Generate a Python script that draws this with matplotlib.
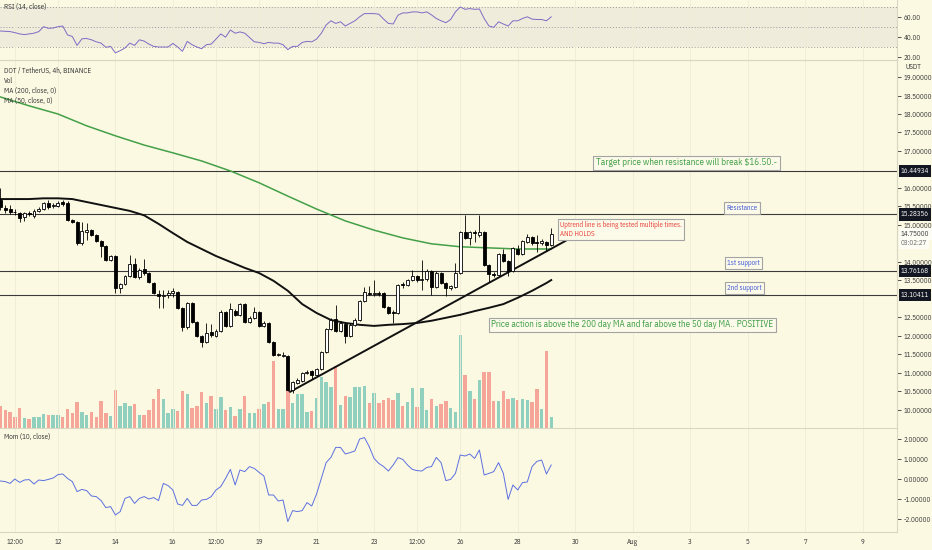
import numpy as np
import pandas as pd
import matplotlib
matplotlib.use('Agg')
import matplotlib.pyplot as plt
import matplotlib.transforms as mtransforms

plt.rcParams['font.family'] = ['IBM Plex Sans Condensed', 'DejaVu Sans']

# ---- data (DOT / USDT 4h) ----
start = pd.Timestamp('2021-07-10 00:00')
bar = pd.Timedelta(hours=4)

opens = [15.68, 15.46, 15.44, 15.36, 15.33, 15.22, 15.31, 15.24, 15.38, 15.43,
         15.60, 15.50, 15.52, 15.62, 15.60, 15.14, 15.08, 14.51, 14.82, 14.86,
         14.73, 14.57, 14.43, 14.05, 14.16, 13.30, 13.41, 13.62, 13.95, 13.59,
         13.81, 13.70, 13.43, 13.14, 13.08, 13.11, 13.16, 13.19, 12.76, 12.24,
         12.89, 12.38, 12.00, 11.84, 12.11, 12.00, 12.14, 12.65, 12.27, 12.68,
         12.57, 12.86, 12.38, 12.49, 12.65, 12.27, 12.35, 11.84, 11.49, 11.47,
         11.46, 10.54, 10.73, 10.78, 11.00, 11.05, 10.95, 11.11, 11.57, 12.19,
         12.46, 12.14, 12.32, 12.00, 12.30, 12.43, 12.95, 13.16, 13.14, 13.16,
         13.16, 12.78, 12.65, 12.62, 13.41, 13.38, 13.51, 13.62, 13.51, 13.54,
         13.76, 13.32, 13.70, 13.43, 13.30, 13.32, 13.70, 14.81, 14.65, 14.81,
         14.73, 14.81, 13.92, 13.68, 13.65, 14.22, 14.03, 13.76, 14.35, 14.22,
         14.54, 14.68, 14.54, 14.51, 14.54, 14.46]
highs = [16.00, 15.54, 15.54, 15.43, 15.35, 15.35, 15.38, 15.43, 15.48, 15.62,
         15.68, 15.60, 15.65, 15.68, 15.65, 15.16, 15.10, 15.08, 15.05, 14.90,
         14.76, 14.60, 14.46, 14.20, 14.19, 13.44, 13.65, 14.19, 14.11, 13.84,
         14.08, 13.72, 13.46, 13.24, 13.24, 13.24, 13.30, 13.22, 12.78, 12.92,
         12.92, 12.40, 12.03, 12.35, 12.32, 12.19, 12.70, 12.68, 12.89, 12.73,
         12.89, 12.89, 12.54, 12.78, 12.68, 12.40, 12.38, 11.86, 11.54, 11.57,
         11.49, 10.78, 10.86, 11.03, 11.08, 11.08, 11.14, 11.60, 12.22, 12.49,
         12.84, 12.40, 12.38, 12.35, 12.49, 12.97, 13.32, 13.35, 13.51, 13.22,
         13.19, 12.81, 12.70, 13.41, 13.46, 13.54, 13.78, 13.65, 14.05, 13.81,
         13.78, 13.76, 13.73, 13.46, 13.38, 13.97, 14.84, 15.27, 14.84, 14.86,
         15.27, 14.84, 13.95, 13.73, 14.24, 14.35, 14.05, 14.41, 14.46, 14.60,
         14.76, 14.71, 14.73, 14.62, 14.57, 14.92]
lows = [15.40, 15.32, 15.30, 15.27, 15.08, 15.10, 15.24, 15.20, 15.35, 15.40,
        15.43, 15.46, 15.48, 15.52, 15.10, 15.04, 14.46, 14.46, 14.60, 14.70,
        14.53, 14.14, 14.02, 14.02, 13.16, 13.16, 13.38, 13.59, 13.56, 13.54,
        13.65, 13.43, 13.14, 12.76, 12.76, 13.03, 13.05, 12.73, 12.14, 12.20,
        12.35, 11.97, 11.70, 11.81, 11.97, 11.97, 12.11, 12.24, 12.24, 12.54,
        12.54, 12.35, 12.35, 12.46, 12.24, 12.24, 11.81, 11.46, 11.46, 11.43,
        10.50, 10.46, 10.70, 10.76, 10.97, 10.84, 10.92, 11.08, 11.54, 12.16,
        12.11, 12.11, 11.81, 11.97, 12.27, 12.40, 12.92, 13.10, 13.08, 13.08,
        12.76, 12.59, 12.35, 12.59, 13.30, 13.35, 13.49, 13.46, 13.24, 13.49,
        13.11, 13.30, 13.40, 13.08, 13.24, 13.30, 13.68, 14.62, 14.46, 14.54,
        14.68, 13.89, 13.46, 13.59, 13.62, 14.00, 13.62, 13.73, 14.19, 14.19,
        14.51, 14.46, 14.27, 14.46, 14.30, 14.43]
closes = [15.49, 15.41, 15.36, 15.34, 15.19, 15.31, 15.30, 15.38, 15.43, 15.59,
          15.49, 15.54, 15.59, 15.57, 15.14, 15.08, 14.51, 14.84, 14.86, 14.73,
          14.57, 14.43, 14.05, 14.16, 13.30, 13.41, 13.62, 13.95, 13.59, 13.78,
          13.70, 13.46, 13.16, 13.08, 13.11, 13.16, 13.22, 12.76, 12.24, 12.89,
          12.38, 12.00, 11.84, 12.08, 12.03, 12.14, 12.65, 12.27, 12.73, 12.57,
          12.86, 12.38, 12.49, 12.65, 12.27, 12.35, 11.84, 11.49, 11.51, 11.49,
          10.54, 10.76, 10.81, 11.00, 11.03, 10.95, 11.11, 11.57, 12.19, 12.43,
          12.14, 12.35, 12.00, 12.30, 12.43, 12.95, 13.19, 13.14, 13.16, 13.14,
          12.78, 12.62, 12.62, 13.38, 13.38, 13.51, 13.62, 13.51, 13.54, 13.76,
          13.32, 13.70, 13.43, 13.30, 13.35, 13.70, 14.81, 14.65, 14.81, 14.78,
          14.81, 13.92, 13.68, 13.65, 14.22, 14.03, 13.76, 14.38, 14.22, 14.57,
          14.68, 14.51, 14.51, 14.57, 14.46, 14.75]
volumes = [22, 18, 16, 11, 20, 10, 9, 11, 11, 14,
           13, 13, 13, 11, 19, 15, 26, 16, 13, 16,
           11, 27, 15, 12, 38, 22, 25, 22, 24, 13,
           13, 18, 29, 39, 29, 15, 19, 17, 37, 34,
           20, 22, 36, 25, 32, 19, 31, 18, 21, 12,
           19, 32, 15, 15, 19, 24, 26, 67, 19, 19,
           38, 25, 34, 34, 16, 17, 30, 51, 46, 41,
           62, 23, 32, 31, 41, 41, 42, 25, 35, 25,
           28, 30, 28, 35, 22, 26, 40, 21, 40, 18,
           29, 22, 24, 27, 20, 16, 93, 53, 37, 29,
           48, 56, 56, 27, 27, 37, 29, 30, 28, 29,
           28, 26, 39, 19, 77, 11]
rsi = [46.0, 45.7, 45.4, 44.4, 43.1, 42.4, 43.1, 43.8, 45.4, 50.3,
       48.7, 49.0, 50.3, 51.0, 42.1, 40.5, 31.6, 38.2, 38.5, 37.2,
       35.2, 33.9, 29.7, 30.6, 24.1, 26.4, 29.0, 33.9, 31.6, 37.2,
       35.9, 32.9, 30.6, 30.0, 30.0, 30.0, 33.6, 30.0, 25.7, 35.6,
       32.3, 30.0, 28.3, 32.3, 32.9, 37.9, 43.1, 39.8, 47.0, 43.8,
       45.1, 43.8, 39.5, 35.2, 34.6, 33.3, 34.6, 33.9, 33.9, 32.3,
       27.4, 30.6, 30.6, 34.6, 35.6, 35.2, 37.9, 43.8, 52.0, 56.2,
       53.6, 55.2, 51.0, 53.6, 56.2, 60.2, 63.4, 63.4, 63.4, 62.8,
       57.9, 53.6, 53.0, 61.8, 64.1, 64.1, 65.1, 65.1, 64.1, 65.1,
       62.1, 58.5, 56.2, 54.3, 57.5, 65.1, 70.0, 67.7, 68.4, 67.7,
       68.0, 58.5, 51.0, 49.7, 55.2, 53.0, 51.0, 56.2, 56.2, 58.5,
       60.2, 57.9, 57.5, 57.5, 56.2, 60.2]
mom = [-0.10, -0.13, -0.22, 0.00, -0.17, -0.05, -0.03, -0.25, -0.05, -0.08,
       -0.02, 0.05, 0.22, 0.25, 0.03, -0.13, -0.63, -0.52, -0.58, -0.85,
       -0.88, -1.08, -1.43, -1.38, -1.80, -1.63, -0.97, -0.88, -1.22, -0.97,
       -0.88, -1.00, -0.93, -1.08, -0.22, -0.33, -0.55, -1.25, -1.32, -0.97,
       -1.32, -1.32, -1.05, -1.02, -0.88, -0.55, -0.38, 0.03, 0.48, -0.30,
       0.45, 0.37, 0.62, 0.53, 0.33, 0.15, -0.80, -0.80, -1.10, -1.05,
       -2.13, -1.58, -1.63, -1.58, -1.18, -1.35, -0.75, 0.03, 0.82, 1.08,
       1.58, 1.58, 1.25, 1.32, 1.40, 2.00, 2.07, 1.62, 1.03, 0.78,
       0.62, 0.40, 0.70, 1.07, 0.98, 0.70, 0.48, 0.42, 0.40, 0.58,
       0.62, 1.08, 0.82, -0.08, -0.02, 0.28, 1.20, 1.15, 1.25, 1.03,
       1.45, 0.20, 0.28, 0.37, 0.82, 0.28, -1.02, -0.30, -0.55, -0.18,
       -0.15, 0.62, 0.88, 0.95, 0.25, 0.70]

# MA 200 read once per day, MA 50 every third bar (plus the last bar)
ma200_idx = list(range(0, 115, 6)) + [115]
ma200 = [18.46, 18.22, 18.00, 17.68, 17.41, 17.16, 16.95, 16.73, 16.46, 16.14,
         15.78, 15.43, 15.11, 14.86, 14.65, 14.49, 14.41, 14.38, 14.35, 14.35, 14.35]
ma50_idx = list(range(0, 115, 3)) + [115]
ma50 = [15.70, 15.70, 15.70, 15.72, 15.72, 15.70, 15.62, 15.54, 15.46, 15.38,
        15.26, 15.03, 14.78, 14.54, 14.35, 14.16, 14.00, 13.84, 13.70, 13.49,
        13.22, 12.86, 12.62, 12.43, 12.35, 12.30, 12.27, 12.30, 12.32, 12.35,
        12.41, 12.49, 12.57, 12.67, 12.76, 12.86, 13.03, 13.22, 13.43, 13.51]

levels = [16.44934, 15.28356, 13.76168, 13.10411]
trend_t = ['2021-07-20 02:00', '2021-07-29 16:00']
trend_p = [10.49, 14.57]

tick_dates = ['2021-07-10 12:00', '2021-07-12', '2021-07-14', '2021-07-16',
              '2021-07-17 12:00', '2021-07-19', '2021-07-21', '2021-07-23',
              '2021-07-24 12:00', '2021-07-26', '2021-07-28', '2021-07-30',
              '2021-08-01', '2021-08-03', '2021-08-05', '2021-08-07', '2021-08-09']
tick_labels = ['12:00', '12', '14', '16', '12:00', '19', '21', '23', '12:00',
               '26', '28', '30', 'Aug', '3', '5', '7', '9']
# price scale labels that stay visible (16.5, 14.5 and 13.0 sit under the tags)
price_ticks = [10.0, 10.5, 11.0, 11.5, 12.0, 12.5, 13.5, 14.0, 15.0, 15.5,
               16.0, 17.0, 17.5, 18.0, 18.5, 19.0]
rsi_ticks = [20, 40, 60]
mom_ticks = [-2, -1, 0, 1, 2]


def bar_pos(ts):
    return (pd.to_datetime(ts) - start) / bar


# ---- figure ----
W, H = 932, 550
AXW = 897
BG = '#fcf9e3'
TXT = '#333333'
FS = 5.0
fig = plt.figure(figsize=(W / 100, H / 100), dpi=100, facecolor=BG)


def rect(top, bottom):
    return [0, 1 - bottom / H, AXW / W, (bottom - top) / H]


ax_rsi = fig.add_axes(rect(0, 60))
ax_vol = fig.add_axes(rect(60, 428), sharex=ax_rsi)
ax = fig.add_axes(rect(60, 428), sharex=ax_rsi)
ax_mom = fig.add_axes(rect(428, 532), sharex=ax_rsi)
ax.patch.set_alpha(0)

xs = np.arange(len(closes))
o = np.array(opens)
c = np.array(closes)
up = c >= o
tick_x = [bar_pos(t) for t in tick_dates]

for a in (ax_rsi, ax_vol, ax, ax_mom):
    a.set_facecolor(BG)
    for s in a.spines.values():
        s.set_color('#d9d6c3')
        s.set_linewidth(0.8)
    a.spines['left'].set_visible(False)
    a.spines['bottom'].set_visible(False)
    a.set_xticks(tick_x)
    a.grid(axis='x', color='#f0edd6', lw=0.6)
    a.tick_params(axis='x', length=0, labelbottom=False)
    a.yaxis.tick_right()
    a.tick_params(axis='y', labelsize=FS, colors=TXT, length=3, width=0.6, pad=2)

ax_rsi.set_xlim(-0.1, 187.2)

# volume
vcol = np.where(up, '#91cfbe', '#f5a699')
ax_vol.bar(xs, volumes, width=0.72, color=vcol, zorder=2)
ax_vol.set_ylim(0, max(volumes) * 3.96)
ax_vol.set_yticks([])
ax_vol.grid(False)
ax_vol.tick_params(axis='y', length=0)

# levels, MAs, trendline
for lv in levels:
    ax.axhline(lv, color='#3a3a3a', lw=0.8, zorder=2)
ax.plot(ma200_idx, ma200, color='#43a047', lw=1.1, zorder=3)
ax.plot(ma50_idx, ma50, color='#111111', lw=1.4, zorder=3)
ax.plot([bar_pos(t) for t in trend_t], trend_p, color='#111111', lw=1.4, zorder=3)

# candles
ax.vlines(xs, lows, highs, color='black', lw=0.6, zorder=4)
body_lo = np.minimum(o, c)
body_h = np.maximum(np.abs(c - o), 0.02)
ax.bar(xs[up], body_h[up], bottom=body_lo[up], width=0.62,
       facecolor='white', edgecolor='black', lw=0.6, zorder=5)
ax.bar(xs[~up], body_h[~up], bottom=body_lo[~up], width=0.62,
       facecolor='black', edgecolor='black', lw=0.6, zorder=5)

ax.set_ylim(9.51, 19.46)
ax.set_yticks(price_ticks)
ax.set_yticklabels([f'{v:.5f}' for v in price_ticks])

# tags on the price scale
ylab = mtransforms.blended_transform_factory(ax.transAxes, ax.transData)
lx = 1 + 4 / AXW
for lv in levels:
    ax.text(lx, lv, f'{lv:.5f}', transform=ylab, ha='left', va='center', fontsize=FS,
            color='white', zorder=10, clip_on=False,
            bbox=dict(boxstyle='square,pad=0.3', fc='#131722', ec='none'))
ax.text(lx, closes[-1], f'{closes[-1]:.5f}', transform=ylab, ha='left', va='center',
        fontsize=FS, color=TXT, zorder=10, clip_on=False,
        bbox=dict(boxstyle='square,pad=0.3', fc='#fdfdf6', ec='none'))
ax.text(lx, closes[-1], '03:02:27',
        transform=ylab + mtransforms.ScaledTranslation(0, -9 / 100, fig.dpi_scale_trans),
        ha='left', va='center', fontsize=FS, color='#666666', zorder=10, clip_on=False,
        bbox=dict(boxstyle='square,pad=0.3', fc='#fdfdf6', ec='none'))
fig.text(913 / W, 1 - 67 / H, 'USDT', fontsize=FS, color=TXT, ha='center', va='center')

# annotations
box = dict(boxstyle='square,pad=0.3', fc='#fcfae8', ec='#a3a3a3', lw=0.8)
green = '#3e9e46'
blue = '#3f57d6'
ax.text(124.4, 16.68, 'Target price when resistance will break $16.50.-', color=green,
        fontsize=6.6, ha='left', va='center', bbox=box, zorder=8)
ax.text(151.6, 15.46, 'Resistance', color=blue, fontsize=5, ha='left', va='center',
        bbox=box, zorder=8)
ax.text(151.8, 13.97, '1st support', color=blue, fontsize=5, ha='left', va='center',
        bbox=box, zorder=8)
ax.text(151.8, 13.30, '2nd support', color=blue, fontsize=5, ha='left', va='center',
        bbox=box, zorder=8)
ax.text(116.8, 14.87, 'Uptrend line is being tested multiple times.\nAND HOLDS',
        color='#e8403c', fontsize=5.0, ha='left', va='center', linespacing=1.1,
        bbox=box, zorder=8)
ax.text(102.5, 12.30,
        'Price action is above the 200 day MA and far above the 50 day MA.. POSITIVE',
        color=green, fontsize=6.45, ha='left', va='center', bbox=box, zorder=8)

# RSI pane
ax_rsi.axhspan(30, 70, color='#efecdc', lw=0, zorder=0)
for lv in (70, 50, 30):
    ax_rsi.axhline(lv, color='#9a9a9a', lw=0.7, ls=(0, (1, 2)), zorder=1)
ax_rsi.plot(xs, rsi, color='#7e6bc4', lw=0.7, zorder=3)
ax_rsi.set_ylim(17, 77)
ax_rsi.set_yticks(rsi_ticks)
ax_rsi.set_yticklabels([f'{v:.2f}' for v in rsi_ticks])
ax_rsi.spines['top'].set_visible(False)

# momentum pane
ax_mom.plot(xs, mom, color='#5b70e0', lw=0.7, zorder=3)
ax_mom.set_ylim(-2.65, 2.55)
ax_mom.set_yticks(mom_ticks)
ax_mom.set_yticklabels([f'{v:.5f}' for v in mom_ticks])
ax_mom.spines['bottom'].set_visible(True)
ax_mom.tick_params(axis='x', labelbottom=True, labelsize=FS, colors=TXT, pad=4)
ax_mom.set_xticklabels(tick_labels)


# pane legends
def legend(ypx, s):
    fig.text(4 / W, 1 - ypx / H, s, fontsize=5.1, color=TXT, ha='left', va='center')


legend(7, 'RSI (14, close)')
legend(71, 'DOT / TetherUS, 4h, BINANCE')
legend(81, 'Vol')
legend(91, 'MA (200, close, 0)')
legend(101, 'MA (50, close, 0)')
legend(437, 'Mom (10, close)')

fig.savefig('out.png', dpi=100, facecolor=BG)
